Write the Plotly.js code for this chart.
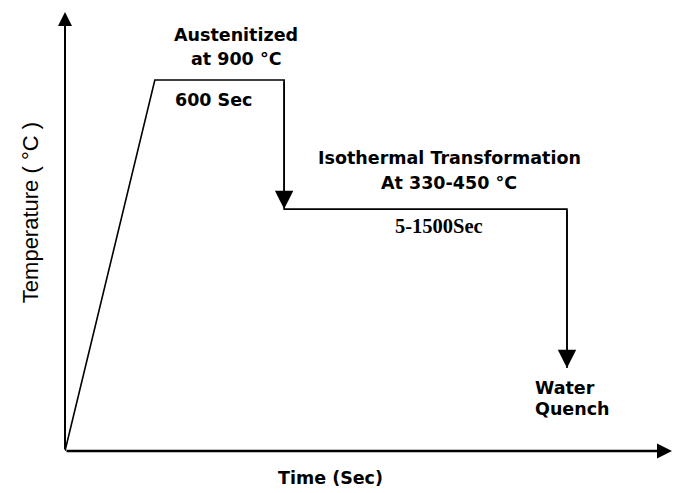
<!DOCTYPE html>
<html>
<head>
<meta charset="utf-8">
<script src="https://cdn.plot.ly/plotly-3.0.1.min.js"></script>
<style>html,body{margin:0;padding:0;background:#fff;}#chart{width:674px;height:493px;}</style>
</head>
<body>
<div id="chart"></div>
<script>
// Schematic heat-treatment cycle (arbitrary units, axis range 0-100)
const time = [0, 14.8, 36.1, 36.1, 82.7, 82.7];
const temperature = [0, 84.5, 84.5, 55.1, 55.1, 18.9];
const arrowSegments = [[2, 3], [4, 5]]; // indices (start, end) of the downward arrows

const labels = {
  aust1: "Austenitized",
  aust2: "at 900 °C",
  hold1: "600 Sec",
  iso1: "Isothermal Transformation",
  iso2: "At 330-450 °C",
  hold2: "5-1500Sec",
  q1: "Water",
  q2: "Quench",
  xTitle: "Time (Sec)",
  yTitle: "Temperature ( °C )"
};

const boldFont = {family: "DejaVu Sans", size: 17.5, color: "#000", weight: "bold"};
const serifFont = {family: "Liberation Serif", size: 20.5, color: "#000", weight: "bold"};

const annotations = [];
// axis arrows
annotations.push({x: 0, y: 100, ax: 0, ay: 0, xref: "x", yref: "y", axref: "x", ayref: "y",
  showarrow: true, arrowhead: 2, arrowsize: 1.4, arrowwidth: 2, arrowcolor: "#000", text: "", standoff: 0});
annotations.push({x: 100, y: 0, ax: 0, ay: 0, xref: "x", yref: "y", axref: "x", ayref: "y",
  showarrow: true, arrowhead: 2, arrowsize: 1.2, arrowwidth: 2.5, arrowcolor: "#000", text: "", standoff: 0});
// process arrows
arrowSegments.forEach(([s, e]) => {
  annotations.push({x: time[e], y: temperature[e], ax: time[s], ay: temperature[s],
    xref: "x", yref: "y", axref: "x", ayref: "y", showarrow: true, arrowhead: 2,
    arrowsize: 2.3, arrowwidth: 1.6, arrowcolor: "#000", text: "", standoff: 0});
});

function txt(t, x, y, font, xanchor) {
  annotations.push({text: t, x: x, y: y, xref: "x", yref: "y", showarrow: false,
    font: font, xanchor: xanchor || "center", yanchor: "middle"});
}
txt("<b>" + labels.aust1 + "</b>", 28.2, 94.8, boldFont);
txt("<b>" + labels.aust2 + "</b>", 28.2, 89.3, boldFont);
txt("<b>" + labels.hold1 + "</b>", 17.8, 80.0, boldFont, "left");
txt("<b>" + labels.iso1 + "</b>", 63.3, 66.7, boldFont);
txt("<b>" + labels.iso2 + "</b>", 63.3, 61.0, boldFont);
txt("<b>" + labels.hold2 + "</b>", 61.6, 51.3, serifFont);
txt("<b>" + labels.q1 + "</b>", 77.1, 14.4, boldFont, "left");
txt("<b>" + labels.q2 + "</b>", 77.1, 9.6, boldFont, "left");

annotations.push({text: "<b>" + labels.xTitle + "</b>", x: 0.4366, y: -0.0615, xref: "paper", yref: "paper",
  showarrow: false, font: boldFont, xanchor: "center", yanchor: "middle"});
annotations.push({text: labels.yTitle, x: -0.0577, y: 0.544, xref: "paper", yref: "paper",
  showarrow: false, textangle: -90, font: {family: "Liberation Sans", size: 22, color: "#000"},
  xanchor: "center", yanchor: "middle"});

const trace = {
  x: time, y: temperature, type: "scatter", mode: "lines",
  line: {color: "#000", width: 1.6}, hoverinfo: "skip", cliponaxis: false
};

const hiddenAxis = {range: [0, 100], showgrid: false, zeroline: false, showline: false,
  showticklabels: false, ticks: "", fixedrange: true};

const layout = {
  width: 674, height: 493,
  margin: {l: 65, r: 2, t: 12, b: 42},
  paper_bgcolor: "#fff", plot_bgcolor: "#fff",
  showlegend: false,
  xaxis: Object.assign({}, hiddenAxis),
  yaxis: Object.assign({}, hiddenAxis),
  annotations: annotations
};

Plotly.newPlot("chart", [trace], layout, {displayModeBar: false, staticPlot: true});
</script>
</body>
</html>
